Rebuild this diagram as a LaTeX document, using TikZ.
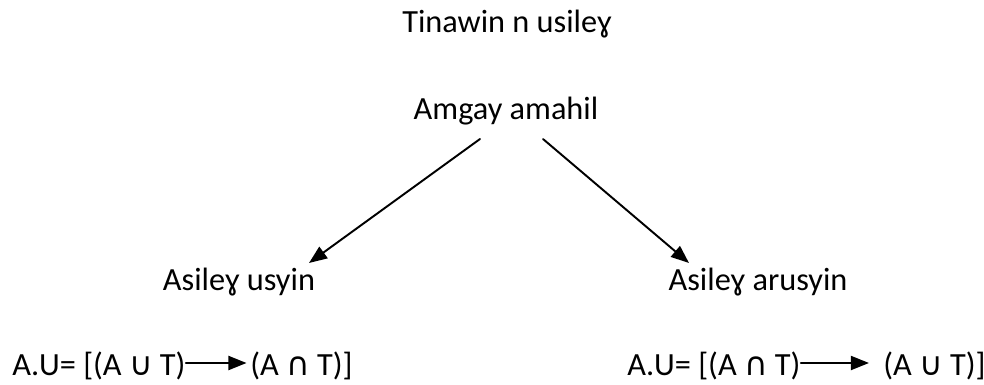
\documentclass[tikz,border=0pt]{standalone}
\usepackage{fontspec}
\setmainfont{Carlito}
\newfontfamily\symfont{DejaVu Sans}
\newcommand{\setunion}{{\symfont ∪}}
\newcommand{\setinter}{{\symfont ∩}}
\usepackage{tikz}
\usetikzlibrary{arrows.meta}
\tikzset{
  every picture/.style={line join=round, line cap=round, >={Triangle[length=3.6mm,width=2.8mm]}},
  lbl/.style={inner sep=0pt, font=\fontsize{18.4}{22}\selectfont},
  link/.style={->, line width=1.1pt},
}

\begin{document}
\begin{tikzpicture}[x=0.02cm, y=-0.02cm]
\useasboundingbox (0,0) rectangle (984,385);
\node[lbl, anchor=base] (title) at (507,33) {Tinawin n usileɣ};
\node[lbl, anchor=base] (root) at (506,120) {Amgay amahil};
\node[lbl, anchor=base] (left) at (239,290) {Asileɣ usyin};
\node[lbl, anchor=base] (right) at (758,290) {Asileɣ arusyin};
\coordinate (rootL) at (480,139);
\coordinate (rootR) at (543,139);
\coordinate (leftT) at (309,263);
\coordinate (rightT) at (689,263);
\draw[link] (rootL) -- (leftT);
\draw[link] (rootR) -- (rightT);
% the two formulas
\node[lbl, anchor=base west] (fl1) at (12,375) {A.U= [(A \setunion{} T)};
\node[lbl, anchor=base west] (fl2) at (250,375) {(A \setinter{} T)]};
\coordinate (a1) at (fl1.east |- 0,363);
\draw[link] (a1) -- ([xshift=-2]fl2.west |- a1);
\node[lbl, anchor=base west] (fr1) at (627,375) {A.U= [(A \setinter{} T)};
\node[lbl, anchor=base west] (fr2) at (883,375) {(A \setunion{} T)]};
\coordinate (a2) at (fr1.east |- 0,363);
\draw[link] (a2) -- ([xshift=-8]fr2.west |- a2);
\end{tikzpicture}
\end{document}
